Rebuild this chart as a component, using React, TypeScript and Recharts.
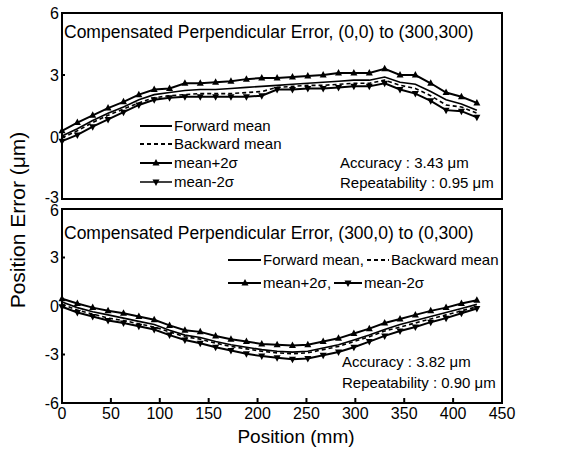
import React from "react";
import { LineChart, Line, XAxis, YAxis, ReferenceArea } from "recharts";

// positions along the diagonal (mm)
const positions = [0, 15.7, 31.4, 47.1, 62.9, 78.6, 94.3, 110, 125.7, 141.4, 157.1, 172.8, 188.6, 204.3,
  220, 235.7, 251.4, 267.1, 282.8, 298.5, 314.3, 330, 345.7, 361.4, 377.1, 392.8, 408.5, 424.3];

// (0,0) to (300,300)
const topUp = [0.3, 0.7, 1.05, 1.4, 1.7, 2.05, 2.3, 2.35, 2.6, 2.6, 2.65, 2.7, 2.8, 2.85,
  2.85, 2.9, 2.95, 3.0, 3.1, 3.1, 3.1, 3.3, 3.0, 3.0, 2.6, 2.15, 1.95, 1.65];
const topFwd = [0.05, 0.4, 0.8, 1.15, 1.45, 1.8, 2.05, 2.15, 2.25, 2.3, 2.3, 2.35, 2.4, 2.45,
  2.5, 2.55, 2.6, 2.65, 2.7, 2.75, 2.75, 2.9, 2.65, 2.55, 2.2, 1.8, 1.6, 1.3];
const topBwd = [-0.05, 0.3, 0.7, 1.05, 1.35, 1.65, 1.9, 2.0, 2.05, 2.1, 2.1, 2.1, 2.15, 2.2,
  2.4, 2.45, 2.5, 2.5, 2.55, 2.6, 2.6, 2.75, 2.5, 2.35, 2.0, 1.55, 1.45, 1.15];
const topLo = [-0.2, 0.1, 0.5, 0.85, 1.2, 1.55, 1.8, 1.9, 1.95, 1.95, 1.95, 1.95, 1.95, 2.0,
  2.3, 2.3, 2.35, 2.35, 2.4, 2.45, 2.45, 2.6, 2.3, 2.1, 1.75, 1.3, 1.25, 0.95];

// (300,0) to (0,300)
const botUp = [0.45, 0.15, -0.1, -0.3, -0.45, -0.65, -0.85, -1.2, -1.5, -1.6, -1.85, -2.05, -2.2, -2.35,
  -2.4, -2.45, -2.4, -2.2, -2.0, -1.7, -1.4, -1.05, -0.8, -0.55, -0.3, -0.1, 0.15, 0.35];
const botFwd = [0.25, -0.1, -0.35, -0.55, -0.75, -0.95, -1.15, -1.5, -1.8, -1.95, -2.2, -2.4, -2.55, -2.7,
  -2.8, -2.85, -2.8, -2.6, -2.4, -2.1, -1.8, -1.45, -1.15, -0.9, -0.65, -0.4, -0.15, 0.1];
const botBwd = [0.1, -0.25, -0.5, -0.75, -0.9, -1.1, -1.3, -1.6, -1.9, -2.05, -2.3, -2.5, -2.65, -2.8,
  -2.9, -2.95, -2.9, -2.7, -2.5, -2.2, -1.9, -1.55, -1.3, -1.05, -0.8, -0.55, -0.3, -0.05];
const botLo = [-0.05, -0.4, -0.65, -0.9, -1.05, -1.25, -1.45, -1.8, -2.1, -2.3, -2.55, -2.75, -2.95, -3.1,
  -3.2, -3.3, -3.25, -3.05, -2.85, -2.55, -2.2, -1.85, -1.55, -1.3, -1.0, -0.75, -0.45, -0.15];

const xTicks = [0, 50, 100, 150, 200, 250, 300, 350, 400, 450];
const topYTicks = [-3, 0, 3, 6];
const botYTicks = [-6, -3, 0, 3, 6];

const FONT = "'Liberation Sans', Arial, sans-serif";

const build = (fwd: number[], bwd: number[], up: number[], lo: number[]) =>
  positions.map((p, i) => ({ pos: p, fwd: fwd[i], bwd: bwd[i], up: up[i], lo: lo[i] }));

const topData = build(topFwd, topBwd, topUp, topLo);
const botData = build(botFwd, botBwd, botUp, botLo);

const triUp = (cx: number, cy: number) =>
  `${cx},${cy - 4} ${cx - 3.5},${cy + 2.5} ${cx + 3.5},${cy + 2.5}`;
const triDown = (cx: number, cy: number) =>
  `${cx},${cy + 4} ${cx - 3.5},${cy - 2.5} ${cx + 3.5},${cy - 2.5}`;

const UpDot = (p: any) => <polygon key={`u${p.index}`} points={triUp(p.cx, p.cy)} fill="#000" />;
const DownDot = (p: any) => <polygon key={`d${p.index}`} points={triDown(p.cx, p.cy)} fill="#000" />;

const XTick = ({ x, y, payload, label }: any) => (
  <g>
    <line x1={x} y1={y} x2={x} y2={y - 5} stroke="#000" strokeWidth={2} />
    {label && (
      <text x={x} y={y + 16} textAnchor="middle" fontSize={16} fontFamily={FONT} fill="#000">
        {payload.value}
      </text>
    )}
  </g>
);

// edge labels of the two panels crowd each other, nudge them apart a little
const YTick = ({ x, y, payload, lowShift, highShift, lo, hi }: any) => {
  const dy = payload.value === lo ? lowShift : payload.value === hi ? highShift : 0;
  return (
    <g>
      <line x1={x} y1={y} x2={x + 3} y2={y} stroke="#000" strokeWidth={2} />
      <text x={x - 3} y={y + 5.5 + dy} textAnchor="end" fontSize={16} fontFamily={FONT} fill="#000">
        {payload.value}
      </text>
    </g>
  );
};

function Panel({ data, yDomain, yTicks, height, margin, xLabels, lowShift, highShift }: any) {
  return (
    <LineChart width={572} height={height} data={data} margin={margin}>
      <XAxis
        dataKey="pos" type="number" domain={[0, 450]} ticks={xTicks} interval={0}
        axisLine={false} tickLine={false} tickSize={0} tickMargin={0}
        height={xLabels ? 30 : 0}
        tick={(p: any) => <XTick {...p} label={xLabels} />}
      />
      <YAxis
        type="number" domain={yDomain} ticks={yTicks} interval={0} width={62}
        axisLine={false} tickLine={false} tickSize={0} tickMargin={0}
        tick={(p: any) => (
          <YTick {...p} lo={yDomain[0]} hi={yDomain[1]} lowShift={lowShift} highShift={highShift} />
        )}
      />
      <ReferenceArea x1={0} x2={450} y1={yDomain[0]} y2={yDomain[1]} fill="none" stroke="#000" strokeWidth={2} />
      <Line dataKey="up" stroke="#000" strokeWidth={2} dot={UpDot} activeDot={false} isAnimationActive={false} />
      <Line dataKey="fwd" stroke="#000" strokeWidth={1.6} dot={false} activeDot={false} isAnimationActive={false} />
      <Line dataKey="bwd" stroke="#000" strokeWidth={1.6} strokeDasharray="4 3" dot={false} activeDot={false} isAnimationActive={false} />
      <Line dataKey="lo" stroke="#000" strokeWidth={2} dot={DownDot} activeDot={false} isAnimationActive={false} />
    </LineChart>
  );
}

export default function App() {
  const t = { fontFamily: FONT, fill: "#000" };
  return (
    <div style={{ position: "absolute", left: 0, top: 0, width: 572, height: 455, background: "#fff", fontFamily: FONT }}>
      <div style={{ position: "absolute", left: 0, top: 0 }}>
        <Panel data={topData} yDomain={[-3, 6]} yTicks={topYTicks} height={212}
          margin={{ top: 13, right: 70, bottom: 13, left: 0 }} xLabels={false} lowShift={-2} highShift={0} />
      </div>
      <div style={{ position: "absolute", left: 0, top: 200 }}>
        <Panel data={botData} yDomain={[-6, 6]} yTicks={botYTicks} height={255}
          margin={{ top: 9, right: 70, bottom: 22, left: 0 }} xLabels={true} lowShift={0} highShift={1} />
      </div>
      <svg width={572} height={455} style={{ position: "absolute", left: 0, top: 0, pointerEvents: "none" }}>
        {/* titles */}
        <text x={64} y={38} fontSize={17.5} {...t}>Compensated Perpendicular Error, (0,0) to (300,300)</text>
        <text x={64} y={239} fontSize={17.5} {...t}>Compensated Perpendicular Error, (300,0) to (0,300)</text>

        {/* top legend */}
        <line x1={140} y1={126} x2={172} y2={126} stroke="#000" strokeWidth={2} />
        <text x={174} y={131} fontSize={15} {...t}>Forward mean</text>
        <line x1={140} y1={144} x2={172} y2={144} stroke="#000" strokeWidth={2} strokeDasharray="4 3" />
        <text x={174} y={149} fontSize={15} {...t}>Backward mean</text>
        <line x1={140} y1={163} x2={172} y2={163} stroke="#000" strokeWidth={2} />
        <polygon points={triUp(156, 163)} fill="#000" />
        <text x={174} y={168} fontSize={15} {...t}>mean+2σ</text>
        <line x1={140} y1={182} x2={172} y2={182} stroke="#000" strokeWidth={1.5} />
        <polygon points={triDown(156, 182)} fill="#000" />
        <text x={174} y={187} fontSize={15} {...t}>mean-2σ</text>

        {/* top notes */}
        <text x={340} y={168} fontSize={15} {...t}>Accuracy : 3.43 μm</text>
        <text x={340} y={188} fontSize={15} {...t}>Repeatability : 0.95 μm</text>

        {/* bottom legend */}
        <line x1={228} y1={260} x2={261} y2={260} stroke="#000" strokeWidth={2} />
        <text x={263} y={265} fontSize={15} {...t}>Forward mean,</text>
        <line x1={367} y1={260} x2={389} y2={260} stroke="#000" strokeWidth={2} strokeDasharray="4 3" />
        <text x={391} y={265} fontSize={15} {...t}>Backward mean</text>
        <line x1={228} y1={283} x2={261} y2={283} stroke="#000" strokeWidth={2} />
        <polygon points={triUp(245, 283)} fill="#000" />
        <text x={263} y={288} fontSize={15} {...t}>mean+2σ,</text>
        <line x1={334} y1={283} x2={362} y2={283} stroke="#000" strokeWidth={2} />
        <polygon points={triDown(348, 283)} fill="#000" />
        <text x={364} y={288} fontSize={15} {...t}>mean-2σ</text>

        {/* bottom notes */}
        <text x={342} y={367} fontSize={15} {...t}>Accuracy : 3.82 μm</text>
        <text x={342} y={388} fontSize={15} {...t}>Repeatability : 0.90 μm</text>

        {/* axis titles */}
        <text x={296} y={443} fontSize={19} textAnchor="middle" {...t}>Position (mm)</text>
        <text transform="translate(25,220) rotate(-90)" x={0} y={0} fontSize={21} textAnchor="middle" {...t}>Position Error (μm)</text>
      </svg>
    </div>
  );
}
